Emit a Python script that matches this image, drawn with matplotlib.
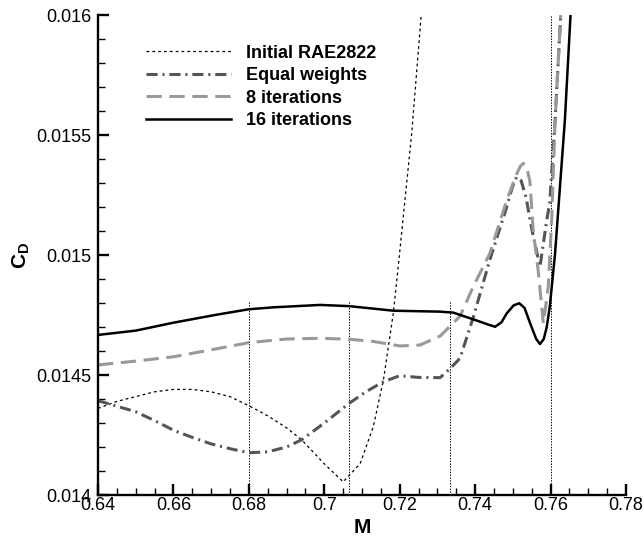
import numpy as np
import matplotlib
matplotlib.use('Agg')
import matplotlib.pyplot as plt
from matplotlib.ticker import MultipleLocator, FuncFormatter

plt.rcParams['font.family'] = ['Liberation Sans', 'DejaVu Sans']
plt.rcParams['mathtext.fontset'] = 'custom'
plt.rcParams['mathtext.rm'] = 'Liberation Sans'
plt.rcParams['mathtext.bf'] = 'Liberation Sans:bold'
plt.rcParams['lines.scale_dashes'] = False

# Initial RAE2822
m_init = [0.64, 0.645, 0.65, 0.655, 0.66, 0.665, 0.67, 0.675, 0.68, 0.685, 0.69,
          0.694, 0.70, 0.705, 0.7095, 0.713, 0.7157, 0.7183, 0.7196, 0.7232, 0.7257]
cd_init = [0.014361, 0.01439, 0.01441, 0.01443, 0.01444, 0.01444, 0.01443, 0.01441,
           0.014372, 0.01433, 0.01428, 0.01423, 0.01413, 0.014055, 0.01413, 0.014285,
           0.01448, 0.014757, 0.01495, 0.01551, 0.0160]

# Equal weights
m_eq = [0.64, 0.645, 0.65, 0.655, 0.66, 0.665, 0.67, 0.675, 0.68, 0.685, 0.69,
        0.694, 0.70, 0.7066, 0.711, 0.7157, 0.72, 0.725, 0.7307, 0.7332, 0.736,
        0.7395, 0.7439, 0.7484, 0.7498, 0.751, 0.7522, 0.7535, 0.755, 0.7572, 0.759,
        0.7598, 0.7612, 0.7627]
cd_eq = [0.014393, 0.01437, 0.014347, 0.01431, 0.01427, 0.01424, 0.014213, 0.014193,
         0.014176, 0.01418, 0.0142, 0.01423, 0.0143, 0.014382, 0.01443, 0.014472,
         0.014497, 0.01449, 0.014489, 0.014524, 0.01457, 0.01474, 0.01498, 0.015201,
         0.01528, 0.015325, 0.01531, 0.01524, 0.01511, 0.014951, 0.015146, 0.01522,
         0.01556, 0.0160]

# 8 iterations
m_8 = [0.64, 0.65, 0.66, 0.67, 0.68, 0.69, 0.6989, 0.7066, 0.713, 0.72, 0.7254,
       0.7307, 0.736, 0.7395, 0.7439, 0.7484, 0.7508, 0.752, 0.7528, 0.7536, 0.7545,
       0.7554, 0.7567, 0.7581, 0.7594, 0.7603, 0.7612, 0.7627]
cd_8 = [0.014542, 0.014558, 0.014576, 0.014605, 0.014635, 0.01465, 0.014653, 0.014649,
        0.01464, 0.014621, 0.014625, 0.014662, 0.014745, 0.014868, 0.015007, 0.015229,
        0.01533, 0.01537, 0.015382, 0.01537, 0.01531, 0.015104, 0.014938, 0.014715,
        0.014868, 0.015146, 0.01556, 0.0160]

# 16 iterations
m_16 = [0.64, 0.65, 0.66, 0.671, 0.68, 0.6865, 0.6989, 0.7066, 0.7183, 0.7307, 0.7342,
        0.7395, 0.7435, 0.7453, 0.747, 0.7484, 0.7502, 0.7517, 0.7531, 0.7546, 0.7562,
        0.7572, 0.7582, 0.759, 0.7598, 0.7612, 0.7625, 0.7638, 0.7653]
cd_16 = [0.014667, 0.014685, 0.014718, 0.01475, 0.014774, 0.014782, 0.014792, 0.014787,
         0.014768, 0.014764, 0.01476, 0.014732, 0.01471, 0.014701, 0.01472, 0.014757,
         0.01479, 0.014799, 0.01478, 0.014715, 0.01465, 0.014629, 0.01465, 0.014701,
         0.014785, 0.015007, 0.015285, 0.015562, 0.0160]

# design Mach numbers (vertical markers)
design_m = [0.68, 0.7066, 0.7333, 0.76]
design_top = [0.01481, 0.01481, 0.01481, 0.016]

fig = plt.figure(figsize=(6.44, 5.38), dpi=100)
ax = fig.add_axes([0.1522, 0.0799, 0.8198, 0.8922])

ax.vlines(design_m, 0.014, design_top, colors='black', linestyles=(0, (1, 1)), linewidth=0.7)

ax.plot(m_init, cd_init, color='black', lw=0.9, ls=(0, (2, 2.2)), label='Initial RAE2822')
ax.plot(m_eq, cd_eq, color='#555555', lw=2.2, ls=(0, (8, 3.5, 1.5, 3.5)), label='Equal weights')
ax.plot(m_8, cd_8, color='#999999', lw=2.2, ls=(0, (11, 5.5)), label='8 iterations')
ax.plot(m_16, cd_16, color='black', lw=1.8, ls='-', label='16 iterations')

ax.set_xlim(0.64, 0.78)
ax.set_ylim(0.014, 0.016)
ax.xaxis.set_major_locator(MultipleLocator(0.02))
ax.xaxis.set_minor_locator(MultipleLocator(0.005))
ax.yaxis.set_major_locator(MultipleLocator(0.0005))
ax.yaxis.set_minor_locator(MultipleLocator(0.0001))
fmt = FuncFormatter(lambda v, p: '{:g}'.format(round(v, 6)))
ax.xaxis.set_major_formatter(fmt)
ax.yaxis.set_major_formatter(fmt)

for s in ['top', 'right']:
    ax.spines[s].set_visible(False)
for s in ['left', 'bottom']:
    ax.spines[s].set_linewidth(1.7)
ax.tick_params(which='major', direction='in', length=8, width=1.7, labelsize=13)
ax.tick_params(which='minor', direction='in', length=5, width=1.0)
ax.tick_params(axis='x', which='major', pad=1.5)
ax.tick_params(axis='y', which='major', pad=5)

ax.set_xlabel('M', fontsize=15, fontweight='bold', labelpad=3)
ax.set_ylabel(r'$\mathbf{C_D}$', fontsize=15, labelpad=3)

ax.legend(loc='upper left', bbox_to_anchor=(0.06, 0.972), frameon=False,
          prop={'weight': 'bold', 'size': 13}, handlelength=4.7, handletextpad=0.85,
          labelspacing=0.3)

fig.savefig('out.png', dpi=100)
